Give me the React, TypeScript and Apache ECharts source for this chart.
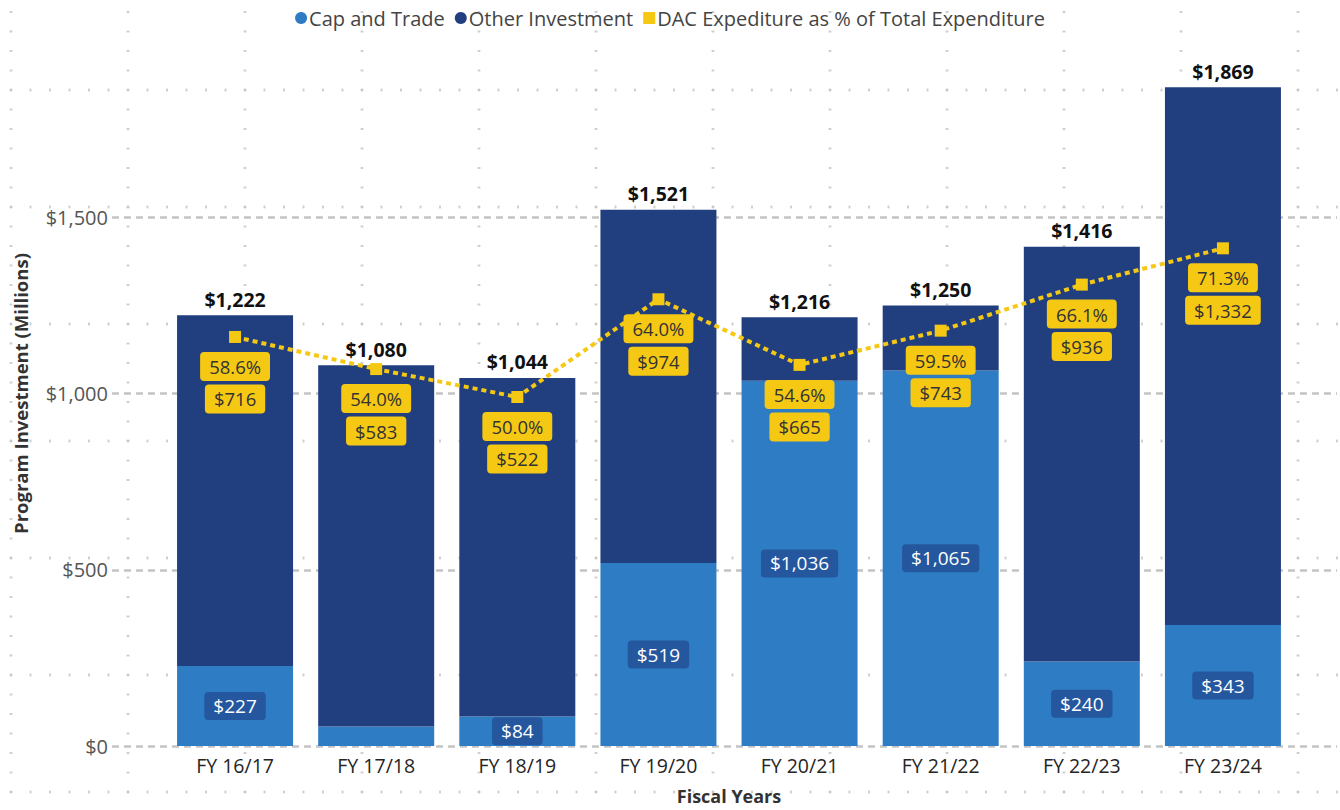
import React, { useEffect, useRef } from "react";
import * as echarts from "echarts";

const categories = ["FY 16/17", "FY 17/18", "FY 18/19", "FY 19/20", "FY 20/21", "FY 21/22", "FY 22/23", "FY 23/24"];
const capAndTrade = [227, 55, 84, 519, 1036, 1065, 240, 343];
const totals = [1222, 1080, 1044, 1521, 1216, 1250, 1416, 1869];
const otherInvestment = totals.map((t, i) => t - capAndTrade[i]);
const dacPercent = [58.6, 54.0, 50.0, 64.0, 54.6, 59.5, 66.1, 71.3];
const dacDollars = [716, 583, 522, 974, 665, 743, 936, 1332];
const yTicks = [0, 500, 1000, 1500];

const FONT = "'Open Sans', 'Noto Sans', sans-serif";
const LIGHT = "#2E7DC4";
const DARK = "#213F7E";
const YELLOW = "#F5C814";

const fmt = (v: number) => "$" + v.toLocaleString("en-US");

export default function App() {
  const ref = useRef<HTMLDivElement>(null);
  useEffect(() => {
    if (!ref.current) return;
    const chart = echarts.init(ref.current, null, { renderer: "svg" });
    chart.setOption({
      animation: false,
      textStyle: { fontFamily: FONT },
      legend: {
        top: 3,
        left: "center",
        itemWidth: 12,
        itemHeight: 12,
        itemGap: 10,
        textStyle: { fontSize: 20, color: "#444", fontFamily: FONT, padding: [0, 0, 0, -3] },
        data: [
          { name: "Cap and Trade", icon: "circle" },
          { name: "Other Investment", icon: "circle" },
          { name: "DAC Expediture as % of Total Expenditure", icon: "rect" },
        ],
      },
      grid: [
        { left: 112, right: 3, top: 41, bottom: 64 },
        { left: 164.5, right: 46.5, top: 41, bottom: 64 },
      ],
      xAxis: [
        { type: "value", gridIndex: 0, show: false, min: 0, max: 1 },
        {
          type: "category",
          gridIndex: 1,
          data: categories,
          axisLine: { show: false },
          axisTick: { show: false },
          axisLabel: { fontSize: 19.5, color: "#252525", margin: 9, fontFamily: FONT },
          name: "Fiscal Years",
          nameLocation: "middle",
          nameGap: 41,
          nameTextStyle: { fontSize: 18, fontWeight: "bold", color: "#333", fontFamily: FONT },
        },
      ],
      yAxis: [
        {
          type: "value",
          gridIndex: 0,
          min: 0,
          max: 2000,
          interval: 500,
          axisLine: { show: false },
          axisTick: { show: false },
          axisLabel: {
            fontSize: 20,
            color: "#555",
            margin: 4,
            fontFamily: FONT,
            showMaxLabel: false,
            formatter: (v: number) => (yTicks.includes(v) ? fmt(v) : ""),
          },
          splitLine: {
            show: true,
            showMaxLine: false,
            lineStyle: { color: "#c4c4c4", type: [7, 5], width: 2.5 },
          },
          name: "Program Investment (Millions)",
          nameLocation: "middle",
          nameGap: 82,
          nameTextStyle: { fontSize: 18.5, fontWeight: "bold", color: "#333", fontFamily: FONT },
        },
        { type: "value", gridIndex: 1, min: 0, max: 2000, show: false },
        { type: "value", gridIndex: 1, min: 0, max: 101, show: false },
      ],
      series: [
        {
          name: "Cap and Trade",
          type: "bar",
          stack: "total",
          xAxisIndex: 1,
          yAxisIndex: 1,
          barWidth: 116,
          itemStyle: { color: LIGHT },
          data: capAndTrade.map((v) => ({
            value: v,
            label: { show: v >= 70 },
          })),
          label: {
            show: true,
            position: "inside",
            formatter: (p: any) => fmt(p.value),
            color: "#fff",
            fontSize: 19,
            lineHeight: 21,
            fontFamily: FONT,
            backgroundColor: "rgba(33,75,145,0.75)",
            borderRadius: 4,
            padding: [4, 9, 3, 9],
          },
        },
        {
          name: "Other Investment",
          type: "bar",
          stack: "total",
          xAxisIndex: 1,
          yAxisIndex: 1,
          barWidth: 116,
          itemStyle: { color: DARK },
          data: otherInvestment,
          label: {
            show: true,
            position: "top",
            distance: 6,
            formatter: (p: any) => fmt(totals[p.dataIndex]),
            color: "#111",
            fontSize: 19.5,
            fontWeight: "bold",
            fontFamily: FONT,
          },
        },
        {
          name: "DAC Expediture as % of Total Expenditure",
          type: "line",
          xAxisIndex: 1,
          yAxisIndex: 2,
          data: dacPercent,
          symbol: "rect",
          symbolSize: 12,
          itemStyle: { color: YELLOW },
          lineStyle: { color: YELLOW, width: 4, type: [5, 4] },
          z: 5,
          label: {
            show: true,
            position: "bottom",
            distance: 9,
            formatter: (p: any) => p.value.toFixed(1) + "%",
            color: "#333",
            fontSize: 18.5,
            lineHeight: 21,
            fontFamily: FONT,
            backgroundColor: YELLOW,
            borderRadius: 4,
            padding: [4, 9, 4, 9],
          },
        },
        {
          name: "DAC dollars",
          type: "scatter",
          xAxisIndex: 1,
          yAxisIndex: 2,
          data: dacPercent,
          symbolSize: 1,
          itemStyle: { color: "rgba(0,0,0,0)", opacity: 1 },
          z: 5,
          label: {
            show: true,
            position: "bottom",
            distance: 47,
            formatter: (p: any) => fmt(dacDollars[p.dataIndex]),
            color: "#333",
            fontSize: 18.5,
            lineHeight: 21,
            fontFamily: FONT,
            backgroundColor: YELLOW,
            borderRadius: 4,
            padding: [4, 9, 4, 9],
          },
        },
      ],
    });
    return () => chart.dispose();
  }, []);

  const dot = "radial-gradient(circle, #c6c6c6 0px, #c6c6c6 1px, rgba(255,255,255,0) 1.4px)";
  return (
    <div
      style={{
        position: "fixed",
        left: 0,
        top: 0,
        width: 1340,
        height: 810,
        background: "#fff",
        backgroundImage: `${dot}, ${dot}`,
        backgroundSize: "117px 19.5px, 19.5px 117px",
        backgroundPosition: "-47.5px 80.25px, 1.25px 31.5px",
      }}
    >
      <div ref={ref} style={{ width: 1340, height: 810 }} />
    </div>
  );
}
